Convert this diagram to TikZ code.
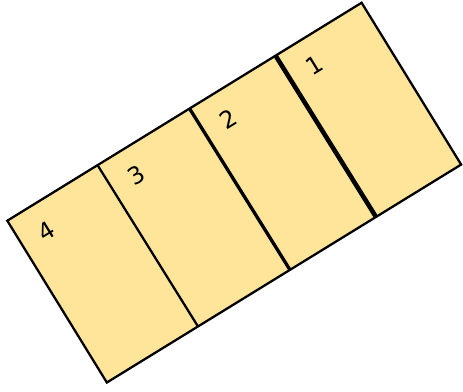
\documentclass[tikz,border=0pt]{standalone}
\usepackage{fontspec}
\setsansfont{DejaVu Sans}
\usepackage{tikz}
\definecolor{panelfill}{RGB}{255, 229, 153}

\begin{document}
\begin{tikzpicture}[x=0.02cm, y=0.02cm]
	\useasboundingbox (0,0) rectangle (463,392);
	\begin{scope}[shift={(7.3,171.3)}, rotate=31.6]
		\filldraw[fill=panelfill, line width=1.3pt] (0,0) rectangle (416,-190);
		\draw[line width=1.3pt] (106,0) -- (107,-190);
		\draw[line width=1.9pt] (214,0) -- (215,-190);
		\draw[line width=2.6pt] (315,0) -- (316,-190);
		\foreach \x/\n in {0/4, 106/3, 214/2, 315/1}
			\node[rotate=31.6, font=\sffamily\fontsize{13.5}{15}\selectfont] (label\n) at (\x+28,-29) {\n};
	\end{scope}
\end{tikzpicture}
\end{document}
